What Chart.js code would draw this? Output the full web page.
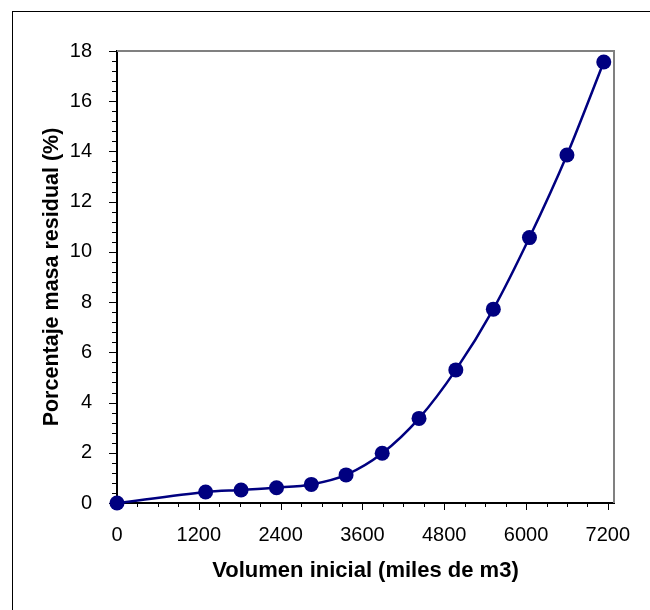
<!DOCTYPE html>
<html>
<head>
<meta charset="utf-8">
<script src="https://cdn.jsdelivr.net/npm/chart.js@4/dist/chart.umd.min.js"></script>
<style>
  body { margin: 0; background: #fff; }
</style>
</head>
<body>
<canvas id="chart" width="650" height="610"></canvas>
<script>
// Data
const volumes = [0, 1300, 1820, 2340, 2850, 3360, 3890, 4430, 4970, 5520, 6050, 6600, 7140];
const residual = [0, 0.44, 0.52, 0.61, 0.74, 1.12, 1.98, 3.37, 5.30, 7.72, 10.57, 13.86, 17.56];
const xTicks = [0, 1200, 2400, 3600, 4800, 6000, 7200];
const yTicks = [0, 2, 4, 6, 8, 10, 12, 14, 16, 18];

const NAVY = "#000080";
const FONT = "'Liberation Sans', Arial, sans-serif";

// Tick marks, outer frame and plot border
const framePlugin = {
  id: "frame",
  beforeDatasetsDraw(chart) {
    const { ctx, chartArea: a, scales } = chart;
    ctx.save();
    // top and right border of plot area
    ctx.strokeStyle = "#808080";
    ctx.lineWidth = 2;
    ctx.beginPath();
    ctx.moveTo(a.left, a.top);
    ctx.lineTo(a.right, a.top);
    ctx.lineTo(a.right, a.bottom);
    ctx.stroke();

    ctx.strokeStyle = "#000";
    ctx.lineWidth = 1;
    ctx.beginPath();
    for (let v = 0; v <= 7200; v += 300) {
      const px = Math.round(scales.x.getPixelForValue(v)) + 0.5;
      const len = v % 1200 === 0 ? 7 : 4;
      ctx.moveTo(px, a.bottom);
      ctx.lineTo(px, a.bottom + len);
    }
    for (let i = 0; i <= 45; i++) {
      const v = i * 0.4;
      const py = Math.round(scales.y.getPixelForValue(v)) + 0.5;
      const len = i % 5 === 0 ? 8 : 5;
      ctx.moveTo(a.left, py);
      ctx.lineTo(a.left - len, py);
    }
    ctx.stroke();
    ctx.restore();
  },
  afterDraw(chart) {
    const ctx = chart.ctx;
    ctx.save();
    ctx.strokeStyle = "#000";
    ctx.lineWidth = 1;
    ctx.strokeRect(12.5, 11.5, 1000, 1000);
    ctx.restore();
  },
};

new Chart(document.getElementById("chart"), {
  type: "line",
  data: {
    datasets: [
      {
        data: volumes.map((v, i) => ({ x: v, y: residual[i] })),
        borderColor: NAVY,
        backgroundColor: NAVY,
        borderWidth: 2.5,
        pointRadius: 7.5,
        pointHoverRadius: 7.5,
        pointBorderWidth: 0,
        tension: 0.3,
        clip: false,
      },
    ],
  },
  options: {
    responsive: false,
    animation: false,
    events: [],
    layout: { padding: { top: 51, right: 36, left: 0, bottom: 0 } },
    plugins: { legend: { display: false }, tooltip: { enabled: false } },
    scales: {
      x: {
        type: "linear",
        min: 0,
        max: 7290,
        afterBuildTicks: (s) => { s.ticks = xTicks.map((v) => ({ value: v })); },
        afterFit: (s) => { s.height = 107; s.paddingRight = 0; s.paddingLeft = 0; },
        grid: { display: false },
        border: { display: true, color: "#000", width: 2 },
        ticks: {
          color: "#000",
          padding: 12,
          maxRotation: 0,
          autoSkip: false,
          font: { family: FONT, size: 20 },
          callback: (v) => String(v),
        },
        title: {
          display: true,
          text: "Volumen inicial (miles de m3)",
          color: "#000",
          padding: { top: 0, bottom: 26 },
          font: { family: FONT, size: 22, weight: "bold" },
        },
      },
      y: {
        type: "linear",
        min: 0,
        max: 18,
        afterBuildTicks: (s) => { s.ticks = yTicks.map((v) => ({ value: v })); },
        afterFit: (s) => { s.width = 117; s.paddingTop = 0; s.paddingBottom = 0; },
        grid: { display: false },
        border: { display: true, color: "#000", width: 2 },
        ticks: { color: "#000", padding: 17, font: { family: FONT, size: 20 } },
        title: {
          display: true,
          text: "Porcentaje masa residual (%)",
          color: "#000",
          padding: { top: 39, bottom: 0 },
          font: { family: FONT, size: 21.5, weight: "bold" },
        },
      },
    },
  },
  plugins: [framePlugin],
});
</script>
</body>
</html>
